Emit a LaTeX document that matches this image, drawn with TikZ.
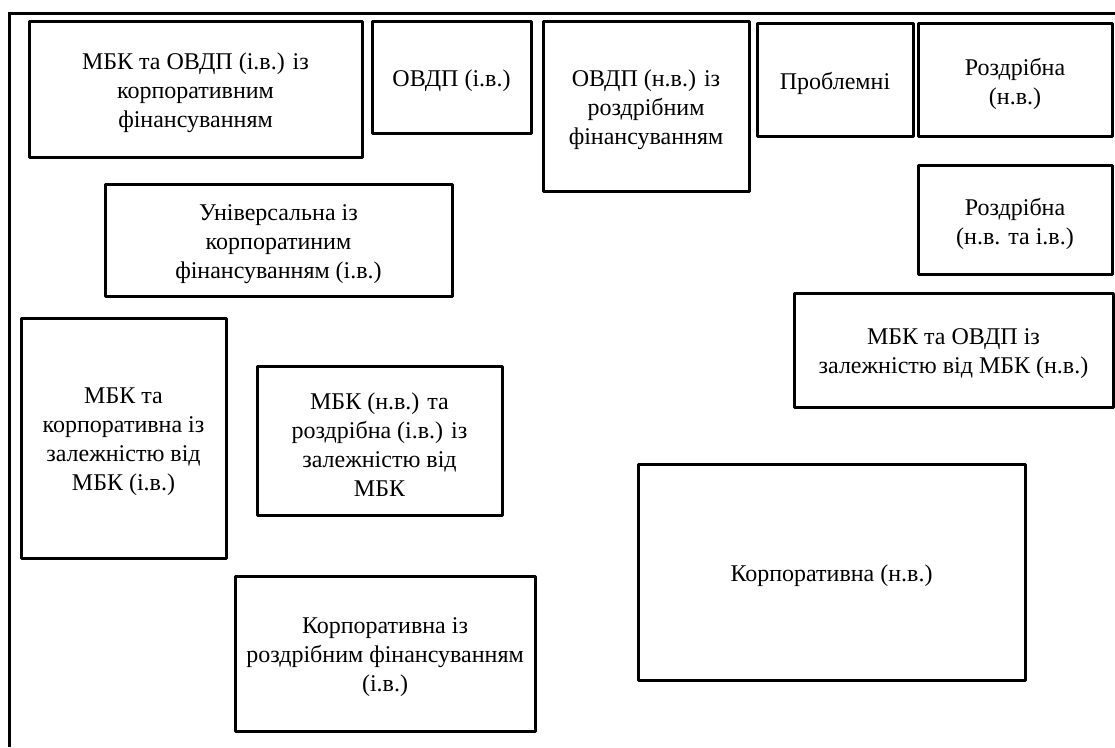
\documentclass[tikz,border=0pt]{standalone}
\usepackage{fontspec}
\setmainfont{Liberation Serif}
\begin{document}
\begin{tikzpicture}[x=1pt,y=-1pt,
  box/.style={draw=black,line width=3pt,line join=round,inner sep=0pt},
  txt/.style={align=center,inner sep=0pt,font=\fontsize{24}{29}\selectfont,yshift=-4pt},
  frame/.style={draw=black,line width=3pt}]
\useasboundingbox (0,0) rectangle (1115,747);
% outer frame: top and left edges only
\coordinate (fbl) at (9,747);
\coordinate (ftl) at (9,13);
\coordinate (ftr) at (1115,13);
\draw[frame] (fbl) -- (ftl) -- (ftr);
% cluster boxes
\node[box,minimum width=333,minimum height=136] (mbkovdp) at (195.5,89) {};
\node[box,minimum width=159,minimum height=112] (ovdpi) at (451.5,77) {};
\node[box,minimum width=206,minimum height=170] (ovdpn) at (646,106) {};
\node[box,minimum width=156,minimum height=113] (probl) at (835,79.5) {};
\node[box,minimum width=194,minimum height=113] (retn) at (1015,79.5) {};
\node[box,minimum width=194,minimum height=109] (retni) at (1015,219.5) {};
\node[box,minimum width=319,minimum height=114] (mbkdep) at (953.5,350) {};
\node[box,minimum width=347,minimum height=112] (univ) at (278.5,240) {};
\node[box,minimum width=205,minimum height=240] (mbkcorp) at (123.5,438) {};
\node[box,minimum width=245,minimum height=149] (mbkret) at (379.5,440.5) {};
\node[box,minimum width=300,minimum height=155] (corpret) at (385,653.5) {};
\node[box,minimum width=387,minimum height=216] (corpn) at (831.5,572) {};
% cluster labels
\node[txt] (t-mbkovdp) at (mbkovdp.center)
  {МБК та ОВДП (і.в.) із\\корпоративним\\фінансуванням};
\node[txt] (t-ovdpi) at (ovdpi.center) {ОВДП (і.в.)};
\node[txt] (t-ovdpn) at (ovdpn.center)
  {ОВДП (н.в.) із\\роздрібним\\фінансуванням};
\node[txt] (t-probl) at (probl.center) {Проблемні};
\node[txt] (t-retn) at (retn.center) {Роздрібна\\(н.в.)};
\node[txt] (t-retni) at (retni.center) {Роздрібна\\(н.в. та і.в.)};
\node[txt] (t-mbkdep) at (mbkdep.center)
  {МБК та ОВДП із\\залежністю від МБК (н.в.)};
\node[txt] (t-univ) at (univ.center)
  {Універсальна із\\корпоратиним\\фінансуванням (і.в.)};
\node[txt] (t-mbkcorp) at (mbkcorp.center)
  {МБК та\\корпоративна із\\залежністю від\\МБК (і.в.)};
\node[txt] (t-mbkret) at (mbkret.center)
  {МБК (н.в.) та\\роздрібна (і.в.) із\\залежністю від\\МБК};
\node[txt] (t-corpret) at (corpret.center)
  {Корпоративна із\\роздрібним фінансуванням\\(і.в.)};
\node[txt] (t-corpn) at (corpn.center) {Корпоративна (н.в.)};
\end{tikzpicture}
\end{document}
